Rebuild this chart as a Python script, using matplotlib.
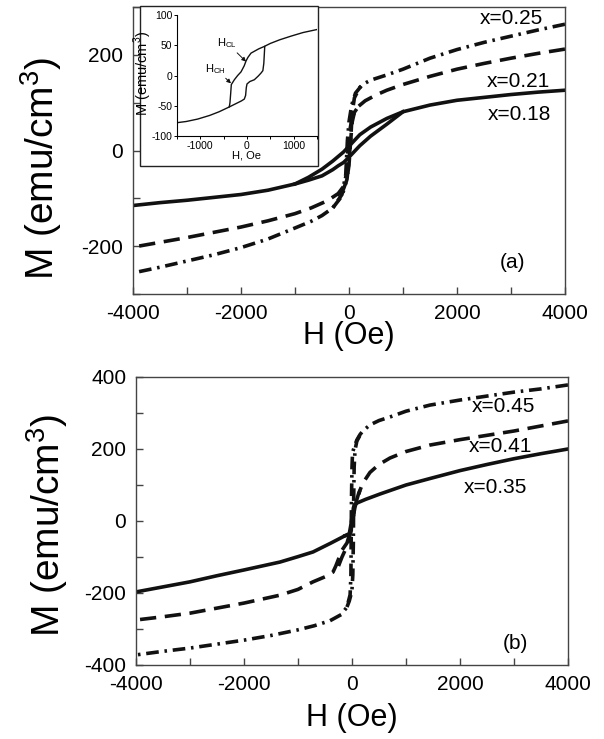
import matplotlib
matplotlib.use("Agg")
import matplotlib.pyplot as plt
from matplotlib.ticker import MultipleLocator
from matplotlib.patches import Rectangle

plt.rcParams['font.family'] = ['Liberation Sans', 'DejaVu Sans']
plt.rcParams['mathtext.fontset'] = 'custom'
plt.rcParams['mathtext.rm'] = 'Liberation Sans'
plt.rcParams['axes.unicode_minus'] = False

# ---------------- Panel (a) data ----------------
# Each loop: full descending branch + ascending branch over the open part of the loop
# x = 0.18 (solid)
a18_down_H = [4000, 3500, 3000, 2500, 2000, 1500, 1000, 700, 400, 200, 50, 0, -100, -300, -500, -750, -1000,
              -1500, -2000, -2500, -3000, -3500, -4000]
a18_down_M = [126, 122, 117, 111, 105, 95, 81, 67, 49, 33, 15, 9, -3, -22, -39, -56, -70,
              -83, -92, -98, -104, -109, -115]
a18_up_H = [-1000, -750, -500, -300, -200, -100, 0, 100, 200, 400, 700, 1000]
a18_up_M = [-70, -62, -53, -40, -32, -25, -14, -2, 10, 30, 55, 81]

# x = 0.21 (dashed)
a21_down_H = [4000, 3500, 3000, 2500, 2000, 1500, 1000, 700, 500, 300, 150, 60, 20, -10, -30, -50, -100,
              -200, -400, -700, -1000, -1500, -2000, -2500, -3000, -3500, -4000]
a21_down_M = [212, 203, 193, 182, 170, 155, 138, 126, 116, 104, 90, 70, 45, 20, -20, -50, -75,
              -90, -105, -120, -132, -147, -160, -171, -182, -192, -202]
a21_up_H = [-222, -100, -37, 0, 30, 60, 100, 200]
a21_up_M = [-94, -80, -60, -30, 20, 60, 80, 96]

# x = 0.25 (dash-dot)
a25_down_H = [4000, 3500, 3000, 2500, 2000, 1500, 1000, 700, 400, 250, 120, 50, 0, -30, -60, -130, -300,
              -500, -700, -1000, -1500, -2000, -2500, -3000, -3500, -4000]
a25_down_M = [264, 252, 239, 226, 211, 193, 170, 158, 147, 138, 120, 95, 60, 20, -50, -92, -120,
              -136, -148, -162, -185, -203, -218, -231, -244, -256]
a25_up_H = [-300, -130, -37, 0, 30, 60, 100, 200, 300]
a25_up_M = [-120, -95, -60, -20, 20, 80, 110, 132, 141]

# inset (minor loop)
ins_down_H = [1500, 1200, 940, 700, 500, 370, 250, 86, 20, -21, -60, -128, -200, -271, -336, -350, -365,
              -380, -600, -800, -1056, -1300, -1500]
ins_down_M = [76, 71, 65, 59, 53, 48, 44, 37, 30, 24, 16, 6, 0, -7, -15, -30, -45,
              -52, -60, -66, -72, -76, -78]
ins_up_H = [-380, -250, -120, -58, -30, -15, 0, 60, 157, 240, 300, 340, 360, 371, 380]
ins_up_M = [-52, -47, -42, -39, -33, -20, -14, -10, -7, -1, 4, 8, 20, 35, 48]

# ---------------- Panel (b) data ----------------
# x = 0.35 (solid)
b35_down_H = [4000, 3500, 3000, 2500, 2000, 1444, 1000, 519, 250, 93, 40, 10, -20, -50, -130, -400, -722,
              -1000, -1333, -2000, -2500, -3000, -3500, -4000]
b35_down_M = [200, 187, 173, 157, 140, 118, 100, 75, 60, 50, 45, 20, -10, -35, -41, -62, -86,
              -99, -114, -136, -152, -169, -183, -197]
b35_up_H = [-130, -50, -20, 0, 30, 55, 93]
b35_up_M = [-41, -38, -30, -5, 30, 45, 52]

# x = 0.41 (dashed)
b41_down_H = [4000, 3500, 3000, 2500, 2000, 1444, 1000, 704, 500, 333, 200, 120, 60, 20, -40, -93, -185,
              -300, -352, -500, -722, -1000, -1333, -2000, -2500, -3000, -3500, -4000]
b41_down_M = [278, 264, 250, 238, 226, 211, 193, 175, 157, 135, 105, 75, 45, 10, -35, -61, -81,
              -125, -142, -155, -169, -190, -206, -228, -242, -256, -266, -275]
b41_up_H = [-250, -185, -93, -40, 20, 56, 148]
b41_up_M = [-125, -100, -70, -40, 10, 39, 86]

# x = 0.45 (dash-dot)
b45_down_H = [4000, 3500, 3000, 2500, 2000, 1444, 1000, 704, 500, 333, 200, 148, 90, 40, 10, 0, -10, -15,
              -20, -35, -93, -200, -407, -700, -1019, -1500, -2000, -2500, -3000, -3500, -4000]
b45_down_M = [378, 367, 358, 347, 336, 322, 305, 289, 279, 267, 250, 240, 225, 205, 190, 150, 60, -50,
              -150, -205, -239, -260, -277, -291, -303, -318, -331, -342, -353, -362, -372]
b45_up_H = [-93, -50, -20, 0, 15, 25, 30, 40, 56, 90, 148]
b45_up_M = [-239, -222, -205, -190, -150, -60, 50, 150, 197, 222, 238]

labels_a = ['x=0.25', 'x=0.21', 'x=0.18']
labels_b = ['x=0.45', 'x=0.41', 'x=0.35']

W, H = 604, 739
fig = plt.figure(figsize=(W / 100, H / 100), dpi=100)

def frac(x0, y0, x1, y1):
    return [x0 / W, 1 - y1 / H, (x1 - x0) / W, (y1 - y0) / H]

LW = 2.6
DASH = (0, (4.5, 2.4))
DASHDOT = (0, (3.5, 1.6, 0.7, 1.6))
INK = '#111111'
spine_col = '#444444'

def style_axes(ax):
    for s in ['left', 'bottom', 'right', 'top']:
        ax.spines[s].set_color(spine_col)
        ax.spines[s].set_linewidth(1.0)
    ax.tick_params(which='both', direction='in', length=5, width=1.0,
                   color=spine_col, top=False, right=False, labelsize=15, pad=7)
    ax.xaxis.set_major_locator(MultipleLocator(2000))
    ax.xaxis.set_minor_locator(MultipleLocator(1000))

# ---- Panel (a) ----
axa = fig.add_axes(frac(133, 7, 565, 294))
style_axes(axa)
axa.plot(a18_down_H, a18_down_M, color=INK, lw=LW, solid_joinstyle='round')
axa.plot(a18_up_H, a18_up_M, color=INK, lw=LW, solid_joinstyle='round')
axa.plot(a21_down_H, a21_down_M, color=INK, lw=LW, linestyle=DASH)
axa.plot(a21_up_H, a21_up_M, color=INK, lw=LW, linestyle=DASH)
axa.plot(a25_down_H, a25_down_M, color=INK, lw=LW, linestyle=DASHDOT)
axa.plot(a25_up_H, a25_up_M, color=INK, lw=LW, linestyle=DASHDOT)
axa.set_xlim(-4000, 4000)
axa.set_ylim(-300, 300)
axa.yaxis.set_major_locator(MultipleLocator(200))
axa.yaxis.set_minor_locator(MultipleLocator(100))
axa.text(3000, 275, labels_a[0], fontsize=15, ha='center', va='center')
axa.text(3130, 145, labels_a[1], fontsize=15, ha='center', va='center')
axa.text(3150, 75, labels_a[2], fontsize=15, ha='center', va='center')
axa.text(3030, -235, '(a)', fontsize=15, ha='center', va='center')
fig.text(349 / W, 1 - 336 / H, 'H (Oe)', fontsize=22, ha='center', va='center')
fig.text(41 / W, 1 - 168 / H, 'M (emu/cm$^3$)', fontsize=28, ha='center', va='center', rotation=90)

# inset frame
frame = Rectangle((140 / W, 1 - 166 / H), 178 / W, 160 / H, transform=fig.transFigure,
                  facecolor='white', edgecolor='#222222', linewidth=1.0, zorder=5)
fig.patches.append(frame)

axi = fig.add_axes(frac(177, 15, 317, 136))
axi.set_zorder(6)
axi.patch.set_alpha(0)
axi.plot(ins_down_H, ins_down_M, color=INK, lw=1.0)
axi.plot(ins_up_H, ins_up_M, color=INK, lw=1.0)
axi.set_xlim(-1500, 1500)
axi.set_ylim(-100, 100)
axi.spines['top'].set_visible(False)
axi.spines['right'].set_visible(False)
for s in ['left', 'bottom']:
    axi.spines[s].set_linewidth(0.8)
axi.xaxis.set_major_locator(MultipleLocator(1000))
axi.xaxis.set_minor_locator(MultipleLocator(500))
axi.yaxis.set_major_locator(MultipleLocator(50))
axi.tick_params(which='both', direction='out', length=2.5, width=0.7, labelsize=7.5, pad=1)
axi.set_xlabel('H, Oe', fontsize=8, labelpad=0)
axi.set_ylabel('M (emu/cm$^3$)', fontsize=10.5)
axi.yaxis.set_label_coords(-0.165, 0.52)
axi.annotate('H$_{\\rm CL}$', xy=(-21, 23), xytext=(-210, 42), fontsize=8,
             ha='right', va='bottom',
             arrowprops=dict(arrowstyle='-|>', color=INK, lw=0.7, mutation_scale=6,
                             shrinkA=0, shrinkB=0))
axi.annotate('H$_{\\rm CH}$', xy=(-343, -13), xytext=(-450, 0), fontsize=8,
             ha='right', va='bottom',
             arrowprops=dict(arrowstyle='-|>', color=INK, lw=0.7, mutation_scale=6,
                             shrinkA=0, shrinkB=0))

# ---- Panel (b) ----
axb = fig.add_axes(frac(136, 377, 568, 665))
style_axes(axb)
axb.plot(b35_down_H, b35_down_M, color=INK, lw=LW, solid_joinstyle='round')
axb.plot(b35_up_H, b35_up_M, color=INK, lw=LW, solid_joinstyle='round')
axb.plot(b41_down_H, b41_down_M, color=INK, lw=LW, linestyle=DASH)
axb.plot(b41_up_H, b41_up_M, color=INK, lw=LW, linestyle=DASH)
axb.plot(b45_down_H, b45_down_M, color=INK, lw=LW, linestyle=DASHDOT)
axb.plot(b45_up_H, b45_up_M, color=INK, lw=LW, linestyle=DASHDOT)
axb.set_xlim(-4000, 4000)
axb.set_ylim(-400, 400)
axb.yaxis.set_major_locator(MultipleLocator(200))
axb.yaxis.set_minor_locator(MultipleLocator(100))
axb.text(2800, 317, labels_b[0], fontsize=15, ha='center', va='center')
axb.text(2740, 208, labels_b[1], fontsize=15, ha='center', va='center')
axb.text(2650, 92, labels_b[2], fontsize=15, ha='center', va='center')
axb.text(3030, -340, '(b)', fontsize=15, ha='center', va='center')
fig.text(352 / W, 1 - 718 / H, 'H (Oe)', fontsize=22, ha='center', va='center')
fig.text(47 / W, 1 - 525 / H, 'M (emu/cm$^3$)', fontsize=28, ha='center', va='center', rotation=90)

fig.savefig('out.png', dpi=100)
